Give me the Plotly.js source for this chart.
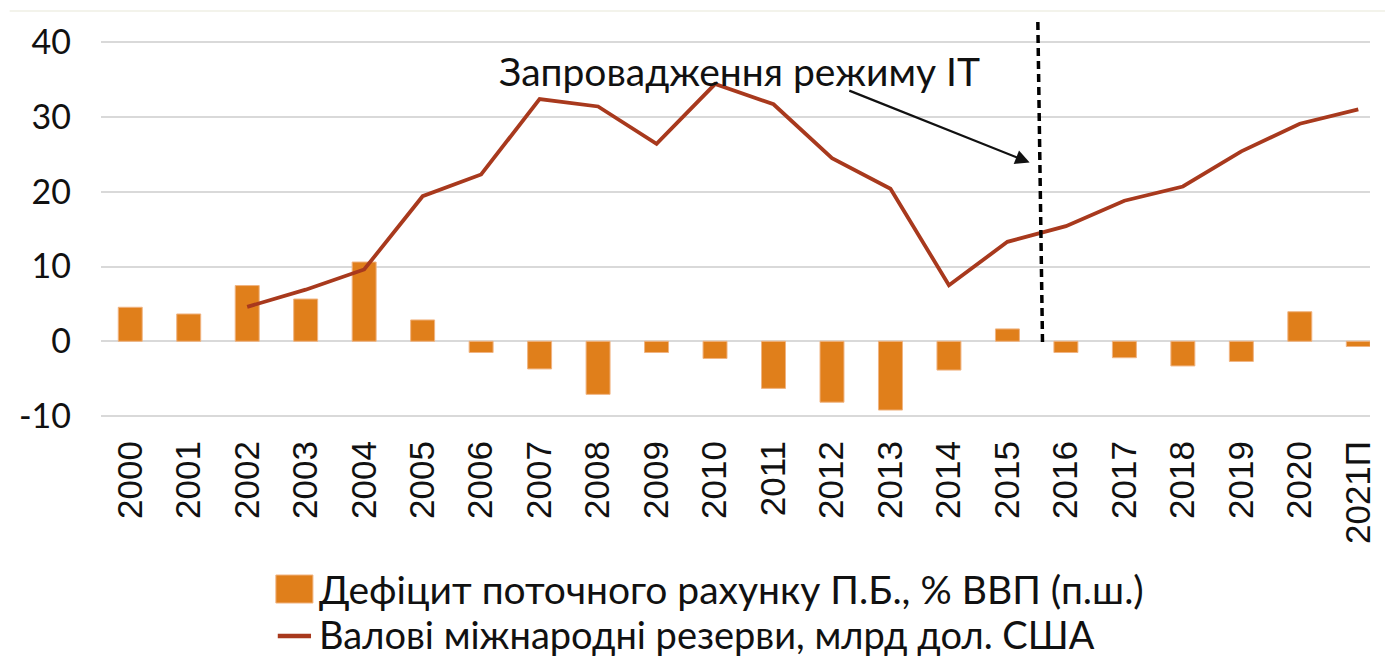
<!DOCTYPE html>
<html>
<head>
<meta charset="utf-8">
<script src="https://cdn.plot.ly/plotly-3.0.1.min.js"></script>
<style>
html,body{margin:0;padding:0;background:#fff;}
#chart{width:1385px;height:659px;}
</style>
</head>
<body>
<div id="chart"></div>
<script>
var years = ['2000','2001','2002','2003','2004','2005','2006','2007','2008','2009','2010','2011','2012','2013','2014','2015','2016','2017','2018','2019','2020','2021П'];
var deficit = [4.55, 3.65, 7.45, 5.65, 10.6, 2.85, -1.5, -3.7, -7.1, -1.5, -2.3, -6.3, -8.15, -9.2, -3.85, 1.65, -1.5, -2.2, -3.3, -2.7, 3.95, -0.7];
var reserveYears = ['2002','2003','2004','2005','2006','2007','2008','2009','2010','2011','2012','2013','2014','2015','2016','2017','2018','2019','2020','2021П'];
var reserves = [4.6, 6.9, 9.6, 19.4, 22.3, 32.4, 31.4, 26.4, 34.4, 31.7, 24.5, 20.4, 7.5, 13.3, 15.4, 18.8, 20.7, 25.4, 29.1, 31.0];
var yTicks = [-10, 0, 10, 20, 30, 40];
var seriesNames = ['Дефіцит поточного рахунку П.Б., % ВВП (п.ш.)', 'Валові міжнародні резерви, млрд дол. США'];
var noteText = 'Запровадження режиму IT';

var textFont = 'Lato, "Open Sans", sans-serif';
var barColor = '#E07F1B';
var lineColor = '#A8391D';

var traces = [
  {
    type: 'bar', x: years, y: deficit, name: seriesNames[0],
    marker: {color: barColor, line: {color: '#F0B482', width: 1}},
    hoverinfo: 'x+y', showlegend: false
  },
  {
    type: 'scatter', mode: 'lines', x: reserveYears, y: reserves, name: seriesNames[1],
    line: {color: lineColor, width: 3.8}, showlegend: false
  }
];

var layout = {
  width: 1385, height: 659,
  margin: {l: 101, r: 15, t: 16, b: 228},
  paper_bgcolor: '#ffffff', plot_bgcolor: '#ffffff',
  bargap: 0.59,
  showlegend: false,
  xaxis: {
    type: 'category', range: [-0.5, 21.2], automargin: false,
    tickangle: -90, showgrid: false, zeroline: false, showline: false, ticks: '',
    tickfont: {family: '"Liberation Sans", Arial, sans-serif', size: 35, color: '#111'},
    ticklabelstandoff: 2
  },
  yaxis: {
    range: [-12, 43.5], tickvals: yTicks, ticktext: yTicks.map(String), automargin: false,
    showgrid: true, gridcolor: '#d9d9d9', gridwidth: 1.5,
    zeroline: false, showline: false, ticks: '',
    tickfont: {family: textFont, size: 34, color: '#111'},
    ticklabelstandoff: 29
  },
  shapes: [
    {type: 'line', xref: 'x', yref: 'y', x0: 15.52, y0: 42.7, x1: 15.6, y1: -0.3,
     line: {color: '#000', width: 3.5, dash: '8px,5px'}},
    {type: 'line', xref: 'paper', yref: 'paper', x0: -0.072, x1: 1.02, y0: 1.012, y1: 1.012,
     line: {color: '#efefe4', width: 1.5}},
    // legend symbols
    {type: 'rect', xref: 'paper', yref: 'paper', x0: 0.1378, x1: 0.1670, y0: -0.4145, y1: -0.347,
     fillcolor: barColor, line: {color: '#F0B482', width: 1}},
    {type: 'line', xref: 'paper', yref: 'paper', x0: 0.1393, x1: 0.1655, y0: -0.4940, y1: -0.4940,
     line: {color: lineColor, width: 4.5}}
  ],
  annotations: [
    {xref: 'x', yref: 'y', x: 10.42, y: 36.2, text: noteText, showarrow: false,
     font: {family: textFont, size: 39, color: '#111'}, xanchor: 'center', yanchor: 'middle'},
    {xref: 'x', yref: 'y', x: 15.38, y: 23.9, ax: 12.27, ay: 33.6, axref: 'x', ayref: 'y',
     text: '', showarrow: true, arrowhead: 2, arrowsize: 1.3, arrowwidth: 2.2, arrowcolor: '#111'},
    {xref: 'paper', yref: 'paper', x: 0.1701, y: -0.3807, xanchor: 'left', yanchor: 'middle',
     text: seriesNames[0], showarrow: false, font: {family: textFont, size: 39, color: '#111'}},
    {xref: 'paper', yref: 'paper', x: 0.1701, y: -0.4880, xanchor: 'left', yanchor: 'middle',
     text: seriesNames[1], showarrow: false, font: {family: textFont, size: 38, color: '#111'}}
  ]
};

Plotly.newPlot('chart', traces, layout, {displayModeBar: false, responsive: false});
</script>
</body>
</html>
